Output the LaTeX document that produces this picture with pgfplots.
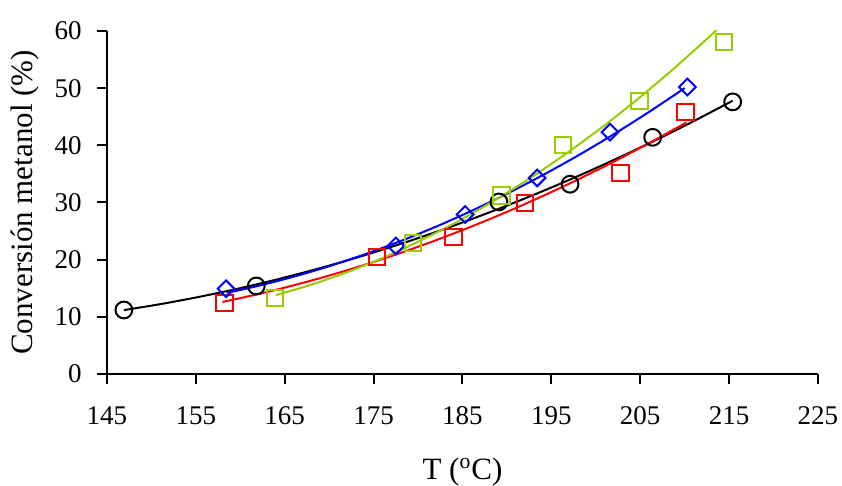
\documentclass[border=0pt]{standalone}
\usepackage{pgfplots}
\pgfplotsset{compat=1.18}
\usepackage{fontspec}
\setmainfont{Liberation Serif}
\definecolor{lime}{RGB}{153,204,0}
\definecolor{pblue}{RGB}{0,0,255}
\definecolor{pred}{RGB}{255,0,0}
\begin{document}
\begin{tikzpicture}
\begin{axis}[
  scale only axis,
  width=355.5pt, height=171.5pt,
  xmin=145, xmax=225, ymin=0, ymax=60,
  xtick={145,155,...,225}, ytick={0,10,...,60},
  axis lines=left,
  axis line style={-, line width=1pt, black},
  tick align=outside,
  major tick length=5pt,
  tick style={line width=1pt, black},
  /pgf/number format/assume math mode=true,
  tick label style={font=\fontsize{13.5}{15}\selectfont, inner sep=0pt},
  xticklabel style={anchor=base, yshift=-20.5pt},
  yticklabel style={anchor=east, xshift=-7.5pt},
  label style={font=\fontsize{15.5}{18}\selectfont},
  xlabel={T (\textsuperscript{o}C)},
  ylabel={Conversión metanol (\%)},
  x label style={at={(axis description cs:0.5,0)}, anchor=center, yshift=-49pt},
  y label style={at={(axis description cs:0,0.5)}, anchor=center, yshift=41pt},
  enlargelimits=false,
]
% fitted curves
\addplot[black, line width=1pt, smooth] coordinates {
(146.9,11.18) (151,12.22) (155,13.38) (159,14.67) (163,16.11) (167,17.69) (171,19.40)
(175,21.26) (179,23.25) (183,25.38) (187,27.66) (191,30.07) (195,32.62) (199,35.31)
(203,38.14) (207,41.11) (211,44.22) (215.4,47.80)};
\addplot[pred, line width=1pt, smooth] coordinates {
(158,12.6) (162,13.97) (166,15.51) (170,17.22) (174,19.10) (178,21.16) (182,23.39)
(186,25.79) (190,28.36) (194,31.11) (198,34.03) (202,37.12) (206,40.39) (210.2,44.00)};
\addplot[pblue, line width=1pt, smooth] coordinates {
(158.5,14.2) (162,15.41) (166,17.02) (170,18.86) (174,20.93) (178,23.23) (182,25.76)
(186,28.53) (190,31.53) (194,34.76) (198,38.22) (202,41.92) (206,45.85) (210,50.01)};
\addplot[lime, line width=1pt, smooth] coordinates {
(164,13.8) (168,15.63) (172,17.79) (176,20.29) (180,23.13) (184,26.30) (188,29.81)
(192,33.65) (196,37.83) (200,42.34) (204,47.19) (208,52.38) (212,57.90) (214.4,61.37)};
% data points
\addplot[only marks, mark=o, mark size=4.2pt, mark options={black, line width=1pt}] coordinates {
(146.9,11.2) (161.8,15.4) (189.1,30.1) (197.1,33.2) (206.4,41.4) (215.4,47.6)};
\addplot[only marks, mark=square, mark size=4.1pt, mark options={pred, line width=1pt}] coordinates {
(158.2,12.4) (175.4,20.5) (184.0,24.0) (192.0,29.9) (202.8,35.2) (210.1,45.8)};
\addplot[only marks, mark=square, mark size=2.95pt, mark options={pblue, line width=1pt, rotate=45}] coordinates {
(158.4,14.9) (177.5,22.4) (185.3,27.9) (193.4,34.3) (201.6,42.3) (210.3,50.2)};
\addplot[only marks, mark=square, mark size=4.1pt, mark options={lime, line width=1pt}] coordinates {
(163.9,13.3) (179.4,22.9) (189.4,31.2) (196.3,40.1) (204.9,47.8) (214.4,58.1)};
\end{axis}
\pgfresetboundingbox
\path (current axis.south west) ++(-53.5pt,-56pt) rectangle ++(421pt,243pt);
\end{tikzpicture}
\end{document}
